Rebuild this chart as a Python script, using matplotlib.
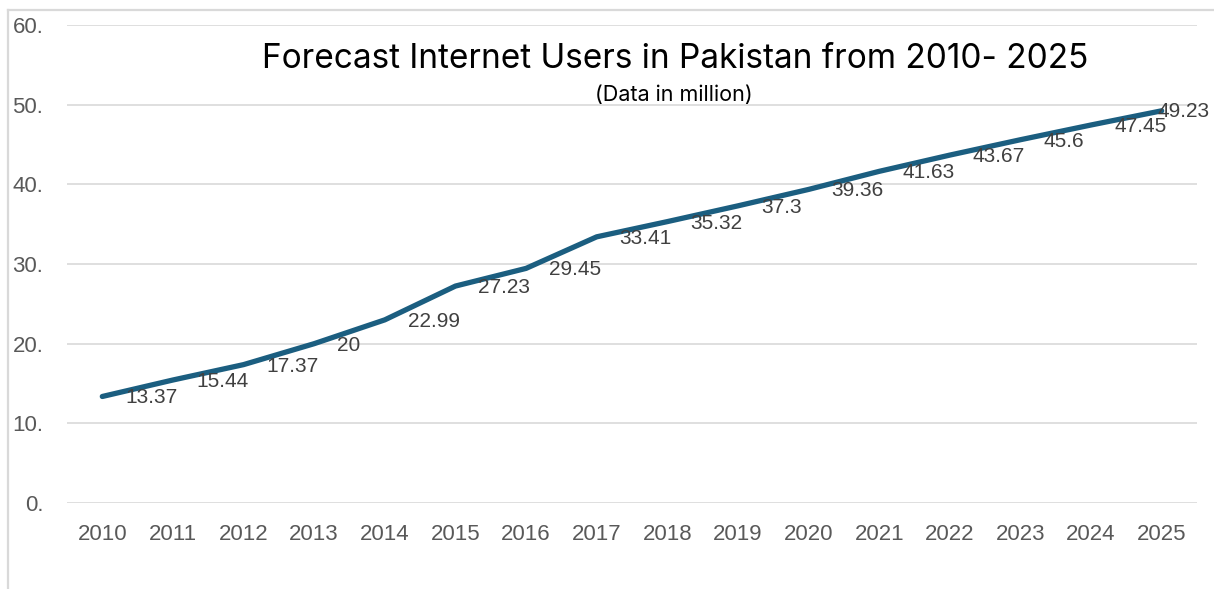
import matplotlib
matplotlib.use("Agg")
import matplotlib.pyplot as plt
from matplotlib.lines import Line2D
from matplotlib.ticker import FuncFormatter, MultipleLocator

years = ["2010", "2011", "2012", "2013", "2014", "2015", "2016", "2017",
         "2018", "2019", "2020", "2021", "2022", "2023", "2024", "2025"]
users = [13.37, 15.44, 17.37, 20, 22.99, 27.23, 29.45, 33.41,
         35.32, 37.3, 39.36, 41.63, 43.67, 45.6, 47.45, 49.23]
labels = ["13.37", "15.44", "17.37", "20", "22.99", "27.23", "29.45", "33.41",
          "35.32", "37.3", "39.36", "41.63", "43.67", "45.6", "47.45", "49.23"]

plt.rcParams["font.family"] = ["Liberation Sans", "DejaVu Sans"]

fig = plt.figure(figsize=(12.14, 5.89), dpi=100)
ax = fig.add_axes([67 / 1214, 1 - 503 / 589, (1197 - 67) / 1214, (503 - 25) / 589])

x = list(range(len(years)))
ax.plot(x, users, color="#1B5E80", linewidth=3.8, solid_joinstyle="round",
        solid_capstyle="round", zorder=3)

ax.set_xlim(-0.5, len(years) - 0.5)
ax.set_ylim(0, 60)
ax.yaxis.set_major_locator(MultipleLocator(10))
ax.yaxis.set_major_formatter(FuncFormatter(lambda v, p: f"{int(v)}."))
ax.set_xticks(x)
ax.set_xticklabels(years)
ax.grid(axis="y", color="#D9D9D9", linewidth=1.2, zorder=0)
for s in ax.spines.values():
    s.set_visible(False)
ax.tick_params(axis="both", length=0, labelsize=16, labelcolor="#595959")
ax.tick_params(axis="x", pad=15)
ax.tick_params(axis="y", pad=17)

# Value labels to the right of each point
for i, (v, t) in enumerate(zip(users, labels)):
    if i == len(users) - 1:
        ax.annotate(t, xy=(i, v), xytext=(48, -1), textcoords="offset pixels",
                    ha="right", va="center", fontsize=15, color="#404040",
                    zorder=4, annotation_clip=False)
    else:
        ax.annotate(t, xy=(i, v), xytext=(23, -1.5), textcoords="offset pixels",
                    ha="left", va="center", fontsize=15, color="#404040",
                    zorder=4, annotation_clip=False)

fig.text(675 / 1214, 1 - 59 / 589, "Forecast Internet Users in Pakistan from 2010- 2025",
         ha="center", va="center", fontsize=24, color="#000000",
         family=["Inter", "DejaVu Sans"])
fig.text(674 / 1214, 1 - 95 / 589, "(Data in million)",
         ha="center", va="center", fontsize=15.5, color="#000000",
         family=["Inter", "DejaVu Sans"])

# Chart frame (left and top edges)
fig.add_artist(Line2D([8 / 1214, 8 / 1214], [0, 1 - 10 / 589],
                      transform=fig.transFigure, color="#D9D9D9", linewidth=1.6))
fig.add_artist(Line2D([8 / 1214, 1], [1 - 10 / 589, 1 - 10 / 589],
                      transform=fig.transFigure, color="#D9D9D9", linewidth=1.6))

fig.savefig("out.png", dpi=100, facecolor="white")
